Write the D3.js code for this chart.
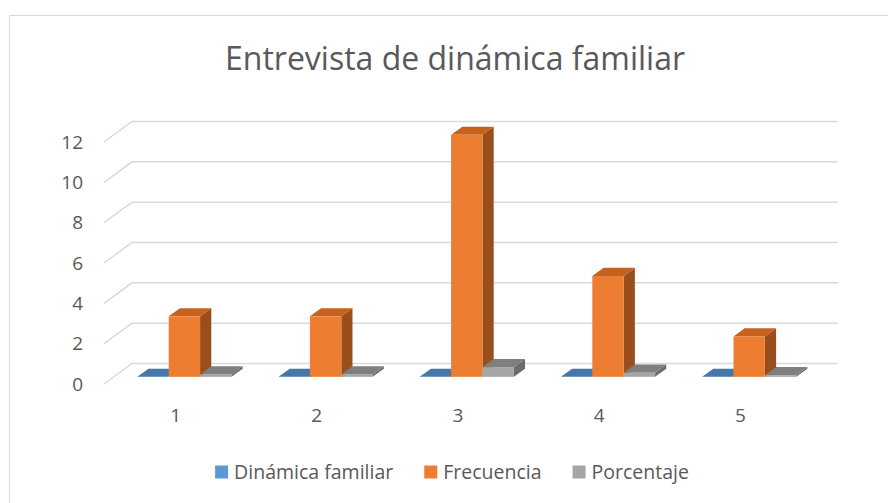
<!DOCTYPE html>
<html>
<head>
<meta charset="utf-8">
<script src="https://cdn.jsdelivr.net/npm/d3@7"></script>
<style>
  body { margin: 0; background: #fff; }
  text { font-family: "Open Sans", "Noto Sans", sans-serif; fill: #595959; }
</style>
</head>
<body>
<div id="chart"></div>
<script>
// Chart data
var categories = ["1", "2", "3", "4", "5"];
var seriesNames = ["Dinámica familiar", "Frecuencia", "Porcentaje"];
var dinamica = [0, 0, 0, 0, 0];
var frecuencia = [3, 3, 12, 5, 2];
var porcentaje = [0.12, 0.12, 0.48, 0.2, 0.08];
var yTicks = [0, 2, 4, 6, 8, 10, 12];

var seriesValues = [dinamica, frecuencia, porcentaje];

// face colours: front, top, side
var palette = [
    { front: "#5B9BD5", top: "#4677A8", side: "#3A6690" },
    { front: "#ED7D31", top: "#C5621F", side: "#9A4E1C" },
    { front: "#A5A5A5", top: "#7F7F7F", side: "#6B6B6B" }
];

var W = 888, H = 503;

// oblique depth offset for full floor depth
var DX = 28, DY = -20.5;
var zFront = 0.35, zBack = 0.75;

var svg = d3.select("#chart").append("svg")
    .attr("width", W)
    .attr("height", H);

// chart border
svg.append("rect")
    .attr("x", 9.5).attr("y", 15.5)
    .attr("width", W + 20).attr("height", H + 20)
    .attr("fill", "none")
    .attr("stroke", "#d9d9d9")
    .attr("stroke-width", 1);

var x = d3.scaleBand().domain(categories).range([104, 810]);
var xs = d3.scaleBand().domain(seriesNames)
    .range([0, x.bandwidth()])
    .paddingInner(0)
    .paddingOuter(0.75);
var y = d3.scaleLinear().domain([0, 12]).range([384, 142]);

function proj(px, py, z) {
    return [px + DX * z, py + DY * z];
}

// gridlines: left wall diagonal + back wall line
var grid = svg.append("g");
yTicks.forEach(function(t) {
    var p0 = [x.range()[0], y(t)],
        p1 = proj(x.range()[0], y(t), 1),
        p2 = proj(x.range()[1], y(t), 1);
    grid.append("polyline")
        .attr("points", [p0, p1, p2].map(function(p) { return p.join(","); }).join(" "))
        .attr("fill", "none")
        .attr("stroke", "#d9d9d9")
        .attr("stroke-width", 1.5);
});

// bars, drawn left to right so front faces cover neighbours' sides
var bars = svg.append("g");
categories.forEach(function(c, ci) {
    seriesNames.forEach(function(s, si) {
        var v = seriesValues[si][ci];
        var x0 = x(c) + xs(s), x1 = x0 + xs.bandwidth();
        var yt = y(v), yb = y(0);
        var col = palette[si];
        var ftl = proj(x0, yt, zFront), ftr = proj(x1, yt, zFront),
            fbr = proj(x1, yb, zFront),
            btl = proj(x0, yt, zBack), btr = proj(x1, yt, zBack),
            bbr = proj(x1, yb, zBack);
        var pts = function(arr) { return arr.map(function(p) { return p.join(","); }).join(" "); };
        if (v > 0) {
            bars.append("polygon")
                .attr("points", pts([ftr, btr, bbr, fbr]))
                .attr("fill", col.side);
        }
        bars.append("polygon")
            .attr("points", pts([ftl, ftr, btr, btl]))
            .attr("fill", col.top);
        if (v > 0) {
            bars.append("rect")
                .attr("x", ftl[0])
                .attr("y", ftl[1])
                .attr("width", x1 - x0)
                .attr("height", yb - yt)
                .attr("fill", col.front);
        }
    });
});

// Y axis
var yAxis = svg.append("g")
    .attr("transform", "translate(83,0)")
    .call(d3.axisLeft(y).tickValues(yTicks).tickSize(0).tickPadding(0));
yAxis.select(".domain").remove();
yAxis.selectAll("text")
    .style("font-family", "'Open Sans', sans-serif")
    .style("font-size", "19px")
    .style("fill", "#595959");

// X axis
var xAxis = svg.append("g")
    .attr("transform", "translate(1,408)")
    .call(d3.axisBottom(x).tickSize(0).tickPadding(0));
xAxis.select(".domain").remove();
xAxis.selectAll("text")
    .style("font-family", "'Open Sans', sans-serif")
    .style("font-size", "19px")
    .style("fill", "#595959");

// Title
svg.append("text")
    .attr("x", 455)
    .attr("y", 70)
    .attr("text-anchor", "middle")
    .style("font-size", "32px")
    .text("Entrevista de dinámica familiar");

// Legend
var legend = svg.append("g").attr("transform", "translate(0,472)");
var items = legend.selectAll("g")
    .data(seriesNames)
    .enter().append("g");
items.append("rect")
    .attr("width", 13).attr("height", 13)
    .attr("y", -6.5)
    .attr("fill", function(d, i) { return palette[i].front; });
items.append("text")
    .attr("x", 19)
    .attr("dy", "0.35em")
    .style("font-size", "19.5px")
    .text(function(d) { return d; });

var gap = 31, offs = [], total = 0;
items.each(function() {
    var w = this.getBBox().width;
    offs.push(total);
    total += w + gap;
});
total -= gap;
var startX = 452 - total / 2;
items.attr("transform", function(d, i) { return "translate(" + (startX + offs[i]) + ",0)"; });
</script>
</body>
</html>
